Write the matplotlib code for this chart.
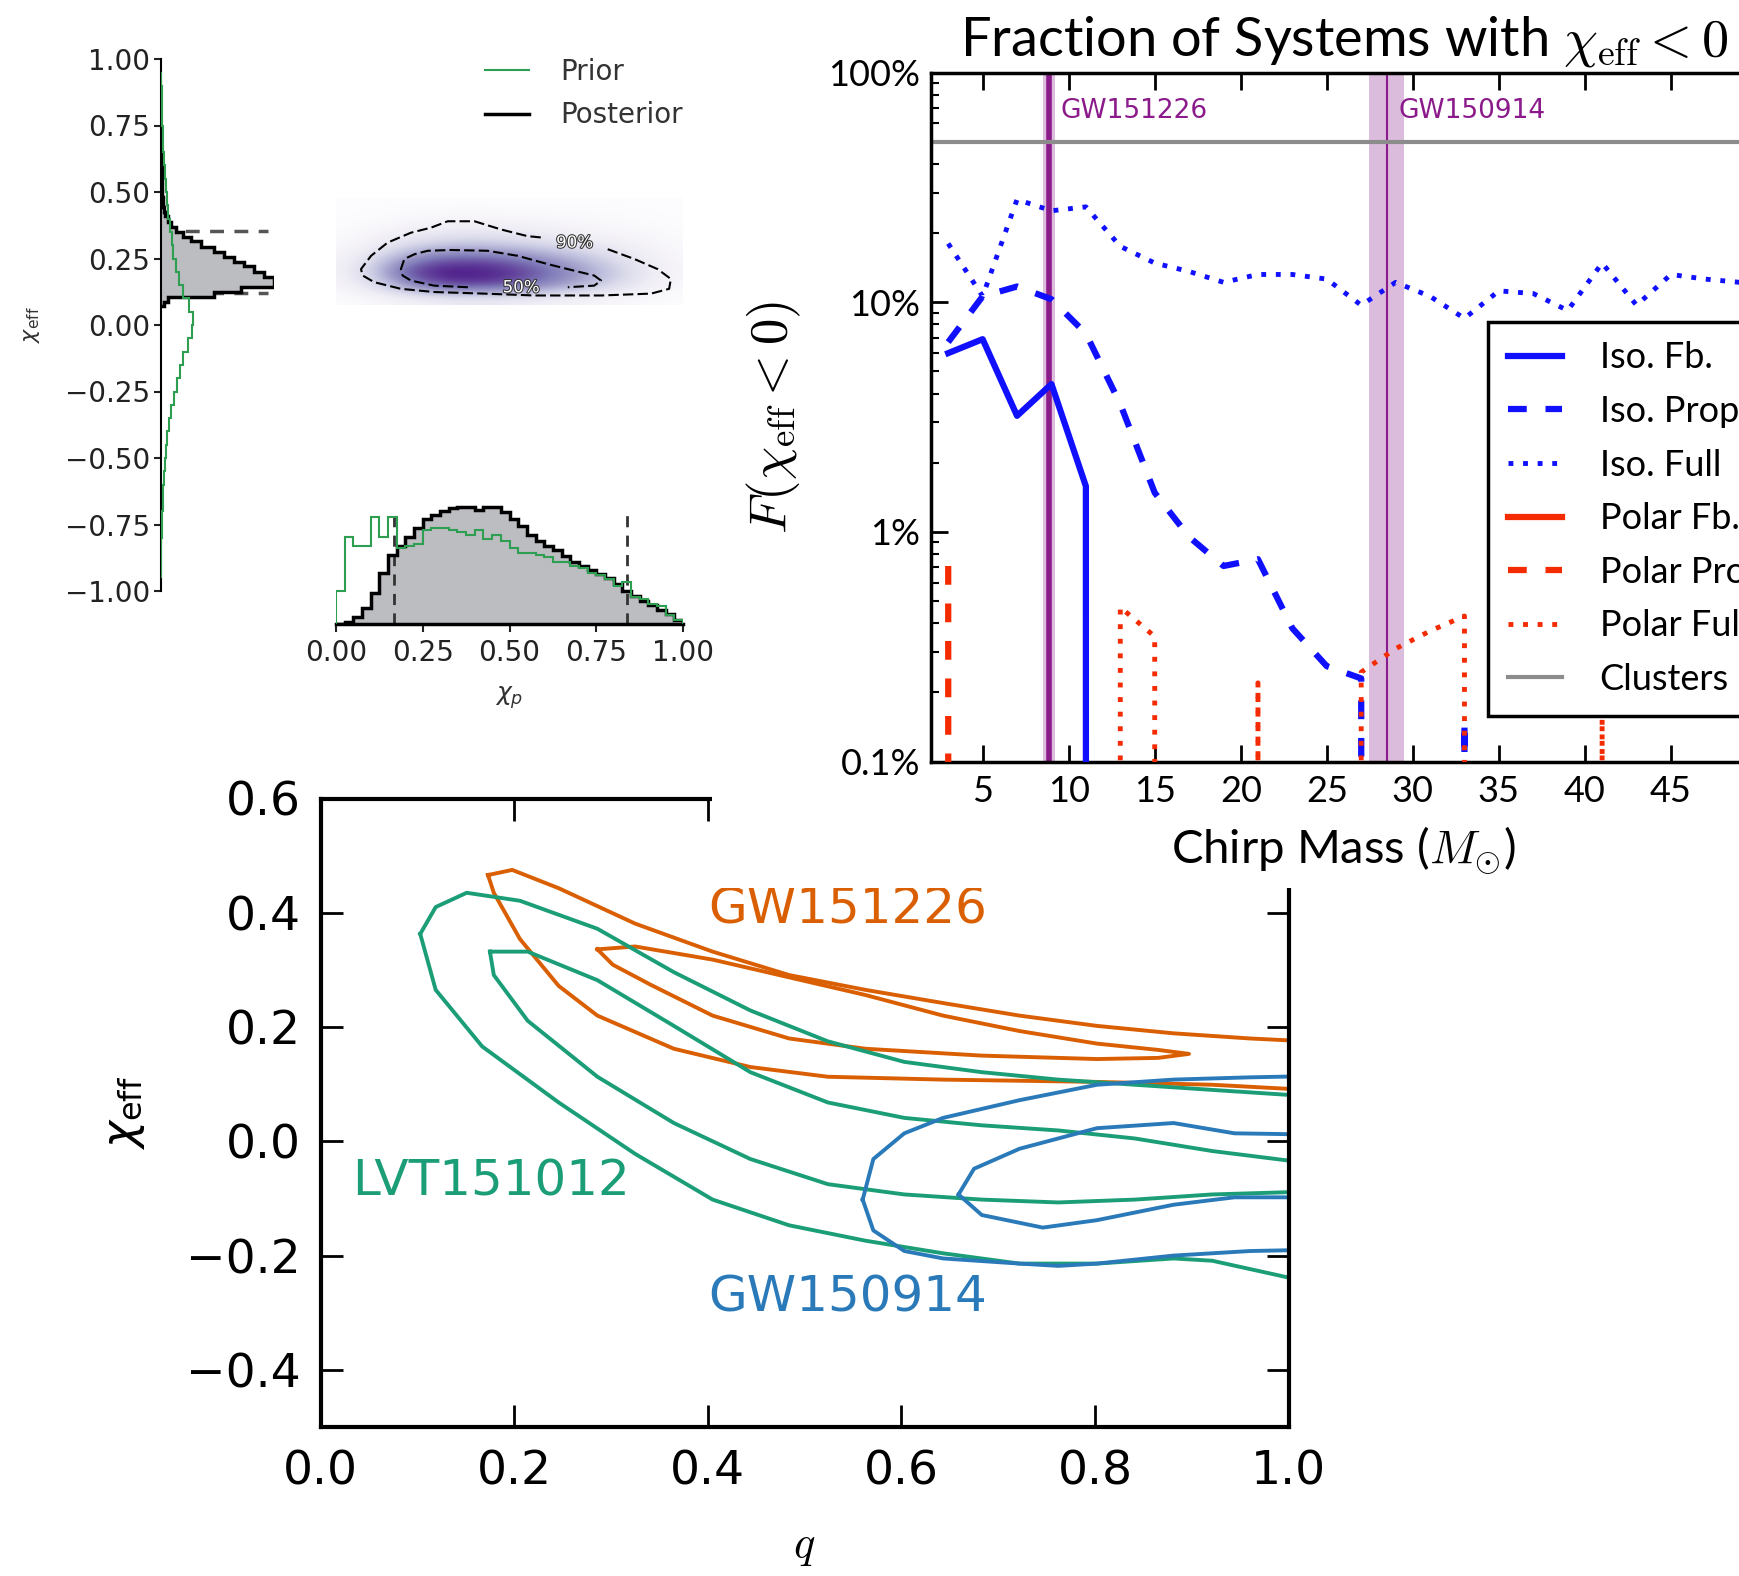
import numpy as np
import matplotlib
matplotlib.use('Agg')
import matplotlib.pyplot as plt
import matplotlib.patheffects as pe
from matplotlib.patches import Rectangle
from matplotlib.lines import Line2D
from matplotlib.ticker import NullFormatter

# ---------------- top-left corner plot (chi_eff / chi_p) ----------------
post_eff_edges = [0.070, 0.088, 0.107, 0.125, 0.144, 0.163, 0.182, 0.201, 0.220, 0.238,
                  0.257, 0.276, 0.295, 0.314, 0.332, 0.351, 0.370, 0.389, 0.408, 0.426,
                  0.445, 0.483, 0.55, 0.65, 0.75]
post_eff = [10, 20, 160, 240, 340, 340, 310, 280, 250, 220, 190, 160, 120, 90, 65, 45,
            30, 20, 13, 10, 7, 4, 2, 1]

prior_eff_edges = [-0.95, -0.90, -0.85, -0.80, -0.75, -0.70, -0.65, -0.60, -0.55, -0.50,
                   -0.45, -0.40, -0.35, -0.30, -0.25, -0.20, -0.15, -0.10, -0.05, 0.00,
                   0.05, 0.10, 0.15, 0.20, 0.25, 0.30, 0.35, 0.40, 0.45, 0.50,
                   0.55, 0.60, 0.65, 0.70, 0.75, 0.80, 0.85, 0.90, 0.95]
prior_eff = [0.5, 1, 1.5, 2.5, 3.5, 5, 7, 9, 11, 14, 18, 23, 30, 38, 48, 56, 66, 80, 92,
             96, 85, 65, 55, 44, 37, 32, 27, 22, 17, 14, 11, 9, 7, 5, 4, 3, 2, 1]

chip_edges = [0.000, 0.025, 0.050, 0.075, 0.100, 0.125, 0.150, 0.175, 0.200, 0.225,
              0.250, 0.275, 0.300, 0.325, 0.350, 0.375, 0.400, 0.425, 0.450, 0.475,
              0.500, 0.525, 0.550, 0.575, 0.600, 0.625, 0.650, 0.675, 0.700, 0.725,
              0.750, 0.775, 0.800, 0.825, 0.850, 0.875, 0.900, 0.925, 0.950, 0.975, 1.000]
post_chip = [0, 5, 15, 35, 70, 115, 155, 175, 195, 215, 235, 245, 253, 260, 263, 263,
             255, 263, 263, 250, 235, 220, 200, 185, 175, 165, 153, 140, 130, 120,
             112, 102, 90, 75, 62, 52, 42, 32, 22, 10]
prior_chip = [73, 195, 175, 175, 240, 195, 240, 170, 175, 180, 210, 215, 215, 210, 205,
              200, 210, 190, 200, 185, 170, 160, 160, 155, 150, 140, 140, 130, 125, 115,
              110, 100, 85, 95, 60, 55, 45, 40, 20, 10]

eff_ci = [0.119, 0.355]
chip_ci = [0.166, 0.84]

# 2D density (rows: chi_eff 0.10 .. 0.45, cols: chi_p 0.0 .. 1.0)
dens = [[0.00, 0.03, 0.08, 0.12, 0.14, 0.13, 0.10, 0.07, 0.04, 0.02, 0.00],
        [0.05, 0.20, 0.55, 0.80, 0.85, 0.78, 0.62, 0.45, 0.28, 0.12, 0.03],
        [0.08, 0.30, 0.80, 1.00, 1.00, 0.92, 0.75, 0.55, 0.35, 0.15, 0.05],
        [0.06, 0.22, 0.52, 0.72, 0.75, 0.68, 0.55, 0.40, 0.25, 0.12, 0.04],
        [0.03, 0.10, 0.24, 0.34, 0.36, 0.33, 0.27, 0.20, 0.13, 0.07, 0.02],
        [0.01, 0.04, 0.10, 0.15, 0.17, 0.15, 0.12, 0.08, 0.05, 0.03, 0.01],
        [0.00, 0.01, 0.03, 0.05, 0.06, 0.05, 0.04, 0.03, 0.02, 0.01, 0.00],
        [0.00, 0.00, 0.00, 0.00, 0.00, 0.00, 0.00, 0.00, 0.00, 0.00, 0.00]]

c90_chip = [0.783, 0.860, 0.927, 0.965, 0.960, 0.908, 0.764, 0.571, 0.427, 0.283, 0.187,
            0.110, 0.077, 0.072, 0.101, 0.149, 0.216, 0.274, 0.322, 0.399, 0.476, 0.552, 0.600]
c90_eff = [0.285, 0.248, 0.210, 0.173, 0.136, 0.118, 0.111, 0.111, 0.118, 0.124, 0.136,
           0.161, 0.186, 0.210, 0.260, 0.310, 0.347, 0.366, 0.390, 0.390, 0.359, 0.334, 0.328]
c50_chip = [0.380, 0.283, 0.216, 0.192, 0.187, 0.197, 0.226, 0.264, 0.331, 0.437, 0.524,
            0.610, 0.687, 0.744, 0.764, 0.744, 0.668]
c50_eff = [0.142, 0.148, 0.167, 0.186, 0.210, 0.248, 0.266, 0.279, 0.282, 0.279, 0.260,
           0.229, 0.204, 0.186, 0.167, 0.148, 0.142]

# ---------------- top-right: fraction with chi_eff < 0 ----------------
mchirp = [3, 5, 7, 9, 11, 13, 15, 17, 19, 21, 23, 25, 27, 29, 31, 33, 35, 37, 39, 41, 43, 45, 47, 49, 51]
iso_fb = [0.060, 0.069, 0.032, 0.044, 0.0158, 0, 0, 0, 0, 0, 0, 0, 0, 0, 0, 0, 0, 0, 0, 0, 0, 0, 0, 0, 0]
iso_prop = [0.067, 0.106, 0.117, 0.103, 0.073, 0.036, 0.0148, 0.0095, 0.0071, 0.0076, 0.0038, 0.0026,
            0.0023, 0, 0, 0.0015, 0, 0, 0, 0, 0, 0, 0, 0, 0]
iso_full = [0.18, 0.106, 0.28, 0.25, 0.26, 0.175, 0.148, 0.136, 0.122, 0.132, 0.132, 0.126, 0.097,
            0.122, 0.106, 0.085, 0.112, 0.109, 0.092, 0.148, 0.097, 0.132, 0.126, 0.122, 0.12]
polar_fb = [0, 0, 0, 0, 0, 0, 0, 0, 0, 0, 0, 0, 0, 0, 0, 0, 0, 0, 0, 0, 0, 0, 0, 0, 0]
polar_prop = [0.0071, 0, 0, 0, 0, 0, 0, 0, 0, 0, 0, 0, 0, 0, 0, 0, 0, 0, 0, 0, 0, 0, 0, 0, 0]
polar_full = [0, 0, 0, 0, 0, 0.0047, 0.0035, 0, 0, 0.0022, 0, 0, 0.00245, 0.0031, 0.0037, 0.0043,
              0, 0, 0, 0.00166, 0, 0, 0, 0, 0]
clusters = 0.5
events = ['GW151226', 'GW150914']
event_mc = [8.85, 28.5]
event_band = [(8.5, 9.2), (27.45, 29.5)]
event_lw = [4, 1.5]

# ---------------- bottom: q vs chi_eff contours ----------------
gw151226_q90 = [0.173, 0.198, 0.246, 0.325, 0.405, 0.484, 0.563, 0.643, 0.722, 0.802, 0.881, 0.960, 1.02,
                1.02, 0.921, 0.802, 0.643, 0.524, 0.444, 0.365, 0.286, 0.246, 0.206, 0.179, 0.173]
gw151226_x90 = [0.466, 0.475, 0.443, 0.381, 0.332, 0.291, 0.265, 0.242, 0.220, 0.202, 0.189, 0.180, 0.175,
                0.090, 0.099, 0.104, 0.108, 0.113, 0.130, 0.162, 0.220, 0.272, 0.354, 0.435, 0.466]
gw151226_q50 = [0.286, 0.325, 0.405, 0.484, 0.563, 0.643, 0.722, 0.802, 0.865, 0.897, 0.865, 0.802,
                0.683, 0.563, 0.484, 0.405, 0.341, 0.302, 0.286]
gw151226_x50 = [0.336, 0.341, 0.318, 0.287, 0.256, 0.220, 0.193, 0.171, 0.160, 0.153, 0.146, 0.144,
                0.150, 0.162, 0.180, 0.220, 0.274, 0.309, 0.336]
lvt_q90 = [0.103, 0.119, 0.151, 0.206, 0.286, 0.365, 0.444, 0.524, 0.603, 0.683, 0.762, 0.841, 0.921,
           1.02, 1.02, 0.921, 0.881, 0.802, 0.722, 0.643, 0.563, 0.484, 0.405, 0.325, 0.246, 0.167,
           0.119, 0.103]
lvt_x90 = [0.363, 0.410, 0.435, 0.421, 0.372, 0.296, 0.229, 0.175, 0.139, 0.121, 0.108, 0.099, 0.090,
           0.079, -0.246, -0.209, -0.205, -0.214, -0.214, -0.196, -0.174, -0.147, -0.102, -0.022,
           0.068, 0.166, 0.265, 0.363]
lvt_q50 = [0.175, 0.214, 0.286, 0.365, 0.444, 0.524, 0.603, 0.683, 0.762, 0.841, 0.921, 1.02, 1.02,
           0.921, 0.841, 0.762, 0.683, 0.603, 0.524, 0.444, 0.365, 0.286, 0.214, 0.179, 0.175]
lvt_x50 = [0.332, 0.332, 0.282, 0.202, 0.121, 0.068, 0.041, 0.028, 0.019, 0.005, -0.017, -0.038,
           -0.088, -0.093, -0.102, -0.107, -0.102, -0.093, -0.075, -0.031, 0.032, 0.113, 0.211,
           0.291, 0.332]
gw150914_q90 = [0.560, 0.571, 0.603, 0.643, 0.722, 0.802, 0.881, 0.960, 1.02, 1.02, 0.960, 0.881,
                0.802, 0.762, 0.722, 0.643, 0.603, 0.571, 0.560]
gw150914_x90 = [-0.102, -0.031, 0.014, 0.041, 0.072, 0.099, 0.108, 0.112, 0.114, -0.190, -0.192,
                -0.200, -0.214, -0.218, -0.214, -0.205, -0.192, -0.156, -0.102]
gw150914_q50 = [0.659, 0.675, 0.722, 0.802, 0.881, 0.944, 1.02, 1.02, 0.944, 0.881, 0.802, 0.746,
                0.683, 0.659]
gw150914_x50 = [-0.093, -0.048, -0.013, 0.023, 0.032, 0.014, 0.012, -0.098, -0.098, -0.111, -0.138,
                -0.151, -0.129, -0.093]

orange = '#d95f02'
green = '#1b9e77'
blue = '#2a7ab9'

W, H = 1739.0, 1576.0


def box(x0, y0, x1, y1):
    # pixel box, top-left origin -> figure fraction
    return [x0 / W, 1 - y1 / H, (x1 - x0) / W, (y1 - y0) / H]


fig = plt.figure(figsize=(W / 100, H / 100), dpi=100)

# ---------- chi_eff marginal ----------
ax_eff = fig.add_axes(box(161, 59, 274, 591))
ax_eff.patch.set_visible(False)
for y in eff_ci:
    ax_eff.axhline(y, xmax=0.947, color='#555555', lw=2.5, dashes=(4, 3), zorder=1)
ax_eff.stairs(post_eff, post_eff_edges, orientation='horizontal', fill=True, color='#bcbdc1', zorder=2)
ax_eff.stairs(post_eff, post_eff_edges, orientation='horizontal', color='k', lw=2.5, zorder=3)
ax_eff.stairs(prior_eff, prior_eff_edges, orientation='horizontal', color='#2e9e50', lw=1.5, zorder=4)
ax_eff.set_ylim(-1, 1)
ax_eff.set_xlim(0, 340)
for s in ['top', 'right', 'bottom']:
    ax_eff.spines[s].set_visible(False)
ax_eff.spines['left'].set_linewidth(1.5)
ax_eff.set_xticks([])
ax_eff.set_yticks([-1, -0.75, -0.5, -0.25, 0, 0.25, 0.5, 0.75, 1])
ax_eff.tick_params(axis='y', direction='out', length=5, width=1.5, labelsize=20, pad=3, colors='#222222')
ax_eff.set_ylabel(r'$\chi_{\rm eff}$', fontsize=16, color='#333333', labelpad=16)

# ---------- 2D density ----------
ax_2d = fig.add_axes(box(336, 59, 683, 591))
ax_2d.patch.set_visible(False)
ax_2d.imshow(np.array(dens), origin='lower', cmap='Purples', vmin=0, vmax=1.05, interpolation='bicubic',
             extent=(-0.05, 1.05, 0.075, 0.475), aspect='auto', zorder=1)
ax_2d.plot(c90_chip, c90_eff, color='k', lw=1.5, ls=(0, (5, 2)), zorder=2)
ax_2d.plot(c50_chip, c50_eff, color='k', lw=1.5, ls=(0, (5, 2)), zorder=2)
for tx, ty, lab in [(0.687, 0.31, '90%'), (0.533, 0.142, '50%')]:
    ax_2d.text(tx, ty, lab, fontsize=12, ha='center', va='center', color='white', zorder=3,
               path_effects=[pe.withStroke(linewidth=1.5, foreground='#333333')])
ax_2d.set_xlim(0, 1)
ax_2d.set_ylim(-1, 1)
ax_2d.axis('off')
ax_2d.legend(handles=[Line2D([], [], color='#2e9e50', lw=1.5, label='Prior'),
                      Line2D([], [], color='k', lw=2.5, label='Posterior')],
             loc='upper left', bbox_to_anchor=(485 / W, 1 - 58 / H), bbox_transform=fig.transFigure,
             frameon=False, fontsize=20, handlelength=1.6, handletextpad=1.1, borderpad=0,
             borderaxespad=0, labelspacing=0.55, labelcolor='#333333')

# ---------- chi_p marginal ----------
ax_p = fig.add_axes(box(336, 499, 683, 624))
ax_p.patch.set_visible(False)
ax_p.stairs(post_chip, chip_edges, fill=True, color='#bcbdc1', zorder=1)
for x in chip_ci:
    ax_p.axvline(x, ymax=0.89, color='#333333', lw=2, dashes=(4, 3), zorder=2)
ax_p.stairs(post_chip, chip_edges, color='k', lw=2.5, zorder=3)
ax_p.stairs(prior_chip, chip_edges, color='#2e9e50', lw=1.5, zorder=4)
ax_p.set_xlim(0, 1)
ax_p.set_ylim(0, 280)
for s in ['top', 'right', 'left']:
    ax_p.spines[s].set_visible(False)
ax_p.spines['bottom'].set_linewidth(2.5)
ax_p.set_yticks([])
ax_p.set_xticks([0, 0.25, 0.5, 0.75, 1.0])
ax_p.tick_params(axis='x', direction='out', length=6, width=1.5, labelsize=20, pad=5, colors='#222222')
ax_p.set_xlabel(r'$\chi_p$', fontsize=18, color='#333333', labelpad=12)

for a in (ax_eff, ax_2d, ax_p):
    a.set_zorder(3)

# ---------- bottom contour panel ----------
ax_q = fig.add_axes(box(320.5, 798.5, 1288.7, 1427))
contours = [(gw151226_q90, gw151226_x90, orange), (gw151226_q50, gw151226_x50, orange),
            (lvt_q90, lvt_x90, green), (lvt_q50, lvt_x50, green),
            (gw150914_q90, gw150914_x90, blue), (gw150914_q50, gw150914_x50, blue)]
for qq, xx, col in contours:
    ax_q.plot(qq, xx, color=col, lw=2.8)
ax_q.text(0.40, 0.406, 'GW151226', color=orange, fontsize=36, va='center')
ax_q.text(0.033, -0.07, 'LVT151012', color=green, fontsize=36, va='center')
ax_q.text(0.40, -0.274, 'GW150914', color=blue, fontsize=36, va='center')
ax_q.set_xlim(0, 1)
ax_q.set_ylim(-0.5, 0.6)
ax_q.set_xticks([0, 0.2, 0.4, 0.6, 0.8, 1.0])
ax_q.set_yticks([-0.4, -0.2, 0, 0.2, 0.4, 0.6])
ax_q.tick_params(direction='in', top=True, right=True, length=16, width=2, labelsize=34)
ax_q.tick_params(axis='x', pad=16)
ax_q.tick_params(axis='y', pad=14)
for s in ax_q.spines.values():
    s.set_linewidth(3)
ax_q.set_xlabel(r'$q$', fontsize=32, math_fontfamily='cm', labelpad=22)
ax_q.set_ylabel(r'$\chi_{\rm eff}$', fontsize=33, labelpad=28)

# white backing of the inset on top of the bottom panel
fig.add_artist(Rectangle((712 / W, 1 - 888 / H), 1, 1, transform=fig.transFigure,
                         facecolor='white', edgecolor='none', zorder=1))

# ---------- top-right fraction panel ----------
ax_fr = fig.add_axes(box(931, 72.5, 1757, 761.5))
ax_fr.set_zorder(2)
ax_fr.set_yscale('log')
for (lo, hi), mc, lw in zip(event_band, event_mc, event_lw):
    ax_fr.axvspan(lo, hi, color='#dcbcdc', lw=0, zorder=1)
    ax_fr.axvline(mc, color='#8b1a8b', lw=lw, zorder=2)
for name, mc in zip(events, event_mc):
    ax_fr.text(mc + 0.65, 0.68, name, color='#8b1a8b', fontsize=19, va='center', zorder=3)
ax_fr.axhline(clusters, color='#8c8c8c', lw=3, zorder=2, label='_nolegend_')

ax_fr.plot(mchirp, iso_fb, color='#1010ff', lw=4.5, ls='-', label='Iso. Fb.', zorder=4)
ax_fr.plot(mchirp, iso_prop, color='#1010ff', lw=4.5, ls=(0, (3, 3)), label='Iso. Prop.', zorder=4)
ax_fr.plot(mchirp, iso_full, color='#1010ff', lw=3.5, ls=(0, (1, 2)), label='Iso. Full', zorder=4)
ax_fr.plot(mchirp, polar_fb, color='#f42a00', lw=4.5, ls='-', label='Polar Fb.', zorder=4)
ax_fr.plot(mchirp, polar_prop, color='#f42a00', lw=4.5, ls=(0, (3, 3)), label='Polar Prop.', zorder=4)
ax_fr.plot(mchirp, polar_full, color='#f42a00', lw=3.5, ls=(0, (1, 2)), label='Polar Full', zorder=4)
h_cl = Line2D([], [], color='#8c8c8c', lw=3, label='Clusters')

ax_fr.set_xlim(2, 50)
ax_fr.set_ylim(0.001, 1)
ax_fr.set_xticks([5, 10, 15, 20, 25, 30, 35, 40, 45, 50])
ax_fr.set_yticks([0.001, 0.01, 0.1, 1], ['0.1%', '1%', '10%', '100%'])
ax_fr.yaxis.set_minor_formatter(NullFormatter())
ax_fr.tick_params(which='both', direction='in', top=True, right=True, labelsize=26,
                  labelfontfamily='Lato')
ax_fr.tick_params(which='major', length=12, width=2)
ax_fr.tick_params(which='minor', length=6, width=1.5)
ax_fr.tick_params(axis='x', pad=10)
ax_fr.tick_params(axis='y', pad=8)
for s in ax_fr.spines.values():
    s.set_linewidth(2.5)
ax_fr.set_title(r'Fraction of Systems with $\chi_{\rm eff} < 0$', fontsize=39, family='Lato',
                math_fontfamily='cm', pad=12)
ax_fr.set_xlabel(r'Chirp Mass ($M_{\odot}$)', fontsize=34, family='Lato', math_fontfamily='cm',
                 labelpad=12)
ax_fr.set_ylabel(r'$F(\chi_{\rm eff} < 0)$', fontsize=38, math_fontfamily='cm', labelpad=18)
handles, labels = ax_fr.get_legend_handles_labels()
leg = ax_fr.legend(handles + [h_cl], labels + ['Clusters'], loc='upper left',
                   bbox_to_anchor=(0.674, 0.6385), borderaxespad=0,
                   prop={'family': 'Lato', 'size': 26},
                   fancybox=False, edgecolor='k', framealpha=1, handlelength=1.5,
                   handletextpad=1.05, labelspacing=0.57, borderpad=0.55)
leg.get_frame().set_linewidth(2.5)
leg.set_zorder(5)

fig.savefig('out.png', dpi=100)
